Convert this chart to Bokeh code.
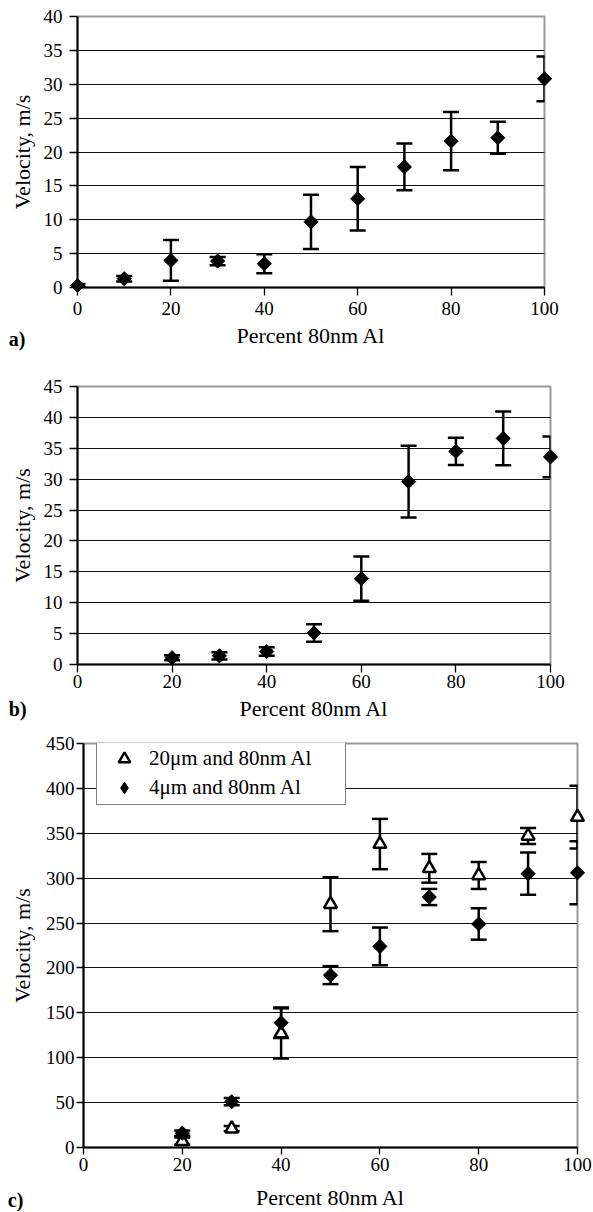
import numpy as np
from bokeh.plotting import figure
from bokeh.models import (ColumnDataSource, Whisker, TeeHead, Range1d, FixedTicker,
                          Legend, LegendItem)
from bokeh.core.properties import value
from bokeh.layouts import column
from bokeh.embed import file_html
from bokeh.resources import INLINE

# ---------------- data ----------------
x_ticks = [0, 20, 40, 60, 80, 100]

# panel a
pct_a = [0, 10, 20, 30, 40, 50, 60, 70, 80, 90, 100]
vel_a = [0.3, 1.3, 4.0, 3.9, 3.5, 9.7, 13.1, 17.8, 21.6, 22.1, 30.8]
err_a = [0.2, 0.4, 3.0, 0.6, 1.4, 4.0, 4.7, 3.45, 4.3, 2.35, 3.3]
y_ticks_a = [0, 5, 10, 15, 20, 25, 30, 35, 40]

# panel b
pct_b = [20, 30, 40, 50, 60, 70, 80, 90, 100]
vel_b = [1.1, 1.4, 2.1, 5.1, 13.9, 29.6, 34.5, 36.6, 33.6]
err_b = [0.4, 0.6, 0.7, 1.4, 3.6, 5.8, 2.2, 4.35, 3.3]
y_ticks_b = [0, 5, 10, 15, 20, 25, 30, 35, 40, 45]

# panel c
pct_c = [20, 30, 40, 50, 60, 70, 80, 90, 100]
vel_c_20um = [7, 21, 127, 271, 338, 311, 303, 347, 368]
err_c_20um = [4, 3, 28, 30, 28, 16, 15, 9, 35]
vel_c_4um = [16, 51, 139, 192, 224, 279, 249, 305, 306]
err_c_4um = [3, 4, 17, 10, 21, 9, 17.5, 23.5, 35]
y_ticks_c = [0, 50, 100, 150, 200, 250, 300, 350, 400, 450]

label_20um = "20μm and 80nm Al"
label_4um = "4μm and 80nm Al"
x_title = "Percent 80nm Al"
y_title = "Velocity, m/s"
panel_names = ["a)", "b)", "c)"]

SERIF = "'Liberation Serif', 'Times New Roman', serif"


def src(x, y, e):
    y = np.asarray(y, float)
    e = np.asarray(e, float)
    return ColumnDataSource(dict(x=x, y=y, upper=y + e, lower=y - e))


def make_fig(fw, fh, ymax, yticks, borders, xax, yax, margin=(0, 0, 0, 0)):
    t, l, r, b = borders
    p = figure(frame_width=fw, frame_height=fh,
               x_range=Range1d(0, 100), y_range=Range1d(0, ymax),
               output_backend="svg", toolbar_location=None,
               min_border_top=t, min_border_left=l, min_border_right=r,
               min_border_bottom=b, margin=margin)
    p.background_fill_color = "white"
    p.border_fill_color = "white"
    p.outline_line_color = "#999999"
    p.outline_line_width = 2
    p.xaxis.ticker = FixedTicker(ticks=x_ticks)
    p.yaxis.ticker = FixedTicker(ticks=yticks)
    p.xgrid.visible = False
    p.ygrid.ticker = FixedTicker(ticks=yticks[1:-1])
    p.ygrid.grid_line_color = "#111111"
    p.ygrid.grid_line_width = 1
    for ax in (p.xaxis[0], p.yaxis[0]):
        ax.axis_line_color = "black"
        ax.axis_line_width = 2
        ax.major_tick_in = 0
        ax.major_tick_line_color = "black"
        ax.major_tick_line_width = 1.3
        ax.minor_tick_line_color = None
        ax.major_label_text_font = SERIF
        ax.major_label_text_font_size = "19px"
        ax.major_label_text_color = "black"
        ax.axis_label_text_font = SERIF
        ax.axis_label_text_font_size = "22px"
        ax.axis_label_text_font_style = "normal"
        ax.axis_label_text_color = "black"
    p.xaxis.axis_label = x_title
    p.yaxis.axis_label = y_title
    p.xaxis.major_tick_out, p.xaxis.major_label_standoff, p.xaxis.axis_label_standoff = xax
    p.yaxis.major_tick_out, p.yaxis.major_label_standoff, p.yaxis.axis_label_standoff = yax
    return p


def add_whisker(p, s):
    w = Whisker(source=s, base="x", upper="upper", lower="lower",
                line_color="black", line_width=2.5, level="annotation",
                upper_head=TeeHead(size=16, line_width=2.5, line_color="black"),
                lower_head=TeeHead(size=16, line_width=2.5, line_color="black"))
    p.add_layout(w)


def diamonds(p, s):
    return p.scatter("x", "y", source=s, marker="square", angle=np.pi / 4, size=10,
                     fill_color="black", line_color="black", line_width=1,
                     level="overlay")


def panel_label(p, text, dx_px, dy_px, fw, fh, ymax):
    # offset in pixels from the frame's bottom-left corner, converted to data units
    p.text(x=[dx_px * 100.0 / fw], y=[dy_px * ymax / fh], text=[text],
           text_font=value(SERIF), text_font_style="bold",
           text_font_size="20px", text_color="black",
           text_baseline="middle", text_align="left", level="overlay")


# ---------------- panel a ----------------
FA = (467, 271)
pa = make_fig(FA[0], FA[1], 40, y_ticks_a, (16, 77, 20, 65), (8, 6, 5), (8, 7, 6))
sa = src(pct_a, vel_a, err_a)
add_whisker(pa, sa)
diamonds(pa, sa)
panel_label(pa, panel_names[0], -68.7, -51, FA[0], FA[1], 40)

# ---------------- panel b ----------------
FB = (473, 278)
pb = make_fig(FB[0], FB[1], 45, y_ticks_b, (34, 77, 20, 60), (8, 2, 5), (8, 7, 6))
sb = src(pct_b, vel_b, err_b)
add_whisker(pb, sb)
diamonds(pb, sb)
panel_label(pb, panel_names[1], -68.7, -44.3, FB[0], FB[1], 45)

# ---------------- panel c ----------------
FC = (494, 404)
pc = make_fig(FC[0], FC[1], 450, y_ticks_c, (19, 77, 16, 65), (7, 3, 11), (7, 2, 8),
              margin=(0, 0, 0, 6))
sc1 = src(pct_c, vel_c_20um, err_c_20um)
sc2 = src(pct_c, vel_c_4um, err_c_4um)
add_whisker(pc, sc1)
add_whisker(pc, sc2)
# narrow diamond glyph (hidden under the rotated squares) that supplies the legend key
r_dia_key = pc.scatter("x", "y", source=sc2, marker="diamond", size=12,
                       fill_color="black", line_color="black", line_width=1)
r_tri = pc.scatter("x", "y", source=sc1, marker="triangle", size=13,
                   fill_color="white", line_color="black", line_width=2.5,
                   level="overlay")
diamonds(pc, sc2)
legend = Legend(items=[LegendItem(label=label_20um, renderers=[r_tri]),
                       LegendItem(label=label_4um, renderers=[r_dia_key])],
                location=(13, FC[1] - 62), orientation="vertical",
                padding=2, spacing=0, margin=0,
                label_height=26, glyph_height=29, glyph_width=50,
                label_standoff=0, label_width=194,
                label_text_font=SERIF, label_text_font_size="21px",
                label_text_color="black",
                border_line_color="black", border_line_width=1,
                background_fill_color="white", background_fill_alpha=1)
pc.add_layout(legend)
panel_label(pc, panel_names[2], -75.7, -52, FC[0], FC[1], 450)

layout = column(pa, pb, pc)
open("out.html", "w").write(file_html(layout, INLINE))
